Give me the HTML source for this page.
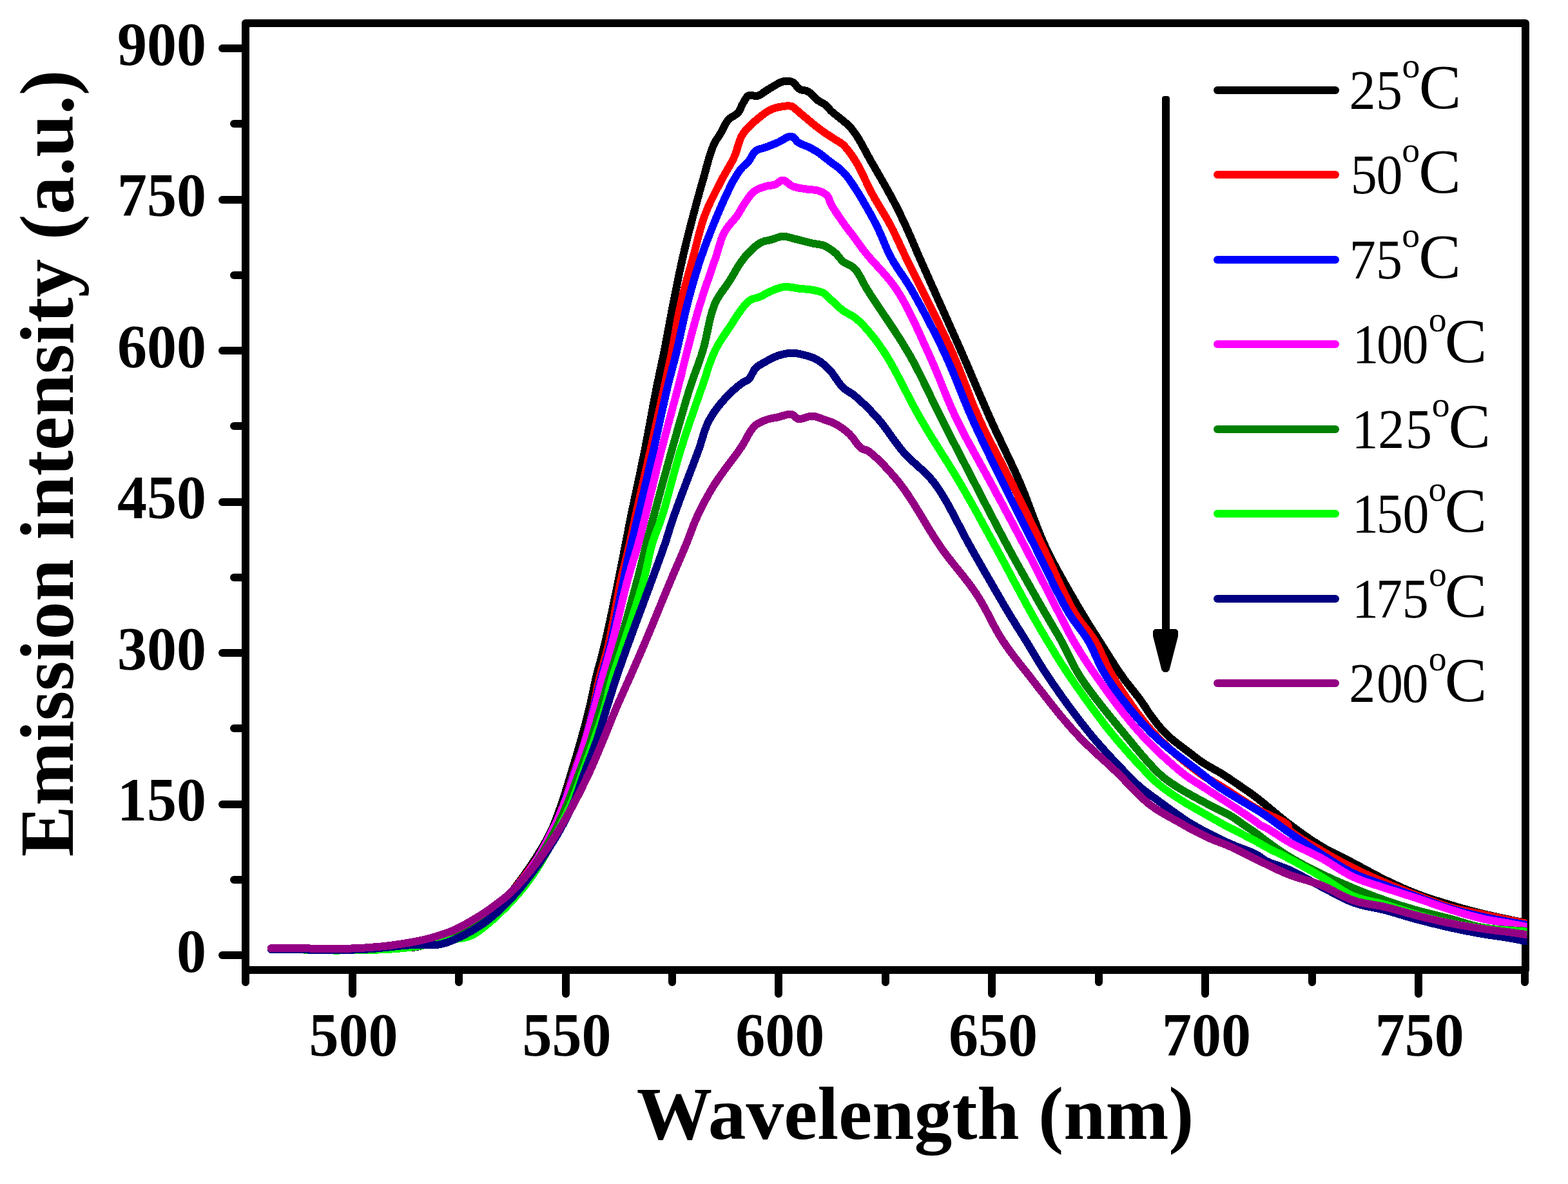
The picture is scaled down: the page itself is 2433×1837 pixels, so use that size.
<!DOCTYPE html>
<html><head><meta charset="utf-8"><title>Emission spectra</title><style>
html,body{margin:0;padding:0;background:#fff;}
svg{display:block;}
</style></head><body>
<svg width="2433" height="1837" viewBox="0 0 2433 1837">
<rect x="381" y="36" width="1986" height="1469" fill="none" stroke="#000" stroke-width="12" stroke-linejoin="round"/>
<path d="M345 1482H381M345 1248H381M345 1013H381M345 779H381M345 544H381M345 310H381M345 75H381M363 1365H381M363 1130H381M363 896H381M363 661H381M363 427H381M363 192H381M547 1505V1542M878 1505V1542M1208 1505V1542M1539 1505V1542M1870 1505V1542M2201 1505V1542M381 1505V1524M712 1505V1524M1043 1505V1524M1374 1505V1524M1705 1505V1524M2036 1505V1524M2366 1505V1524" stroke="#000" stroke-width="12" stroke-linecap="round" fill="none"/>
<defs><clipPath id="cp"><rect x="0" y="0" width="2369.5" height="1837"/></clipPath></defs>
<g fill="none" stroke-width="12" stroke-linejoin="round" stroke-linecap="round" clip-path="url(#cp)" shape-rendering="crispEdges"><path d="M420.5,1473.0 L426.0,1473.0 L431.4,1473.0 L436.8,1472.9 L442.2,1472.9 L448.0,1472.9 L454.0,1473.0 L462.3,1473.2 L471.0,1473.5 L480.2,1473.8 L489.5,1474.1 L498.8,1474.4 L508.0,1474.5 L517.3,1474.5 L526.7,1474.4 L536.2,1474.3 L545.5,1474.1 L554.5,1473.8 L563.0,1473.5 L569.4,1473.2 L575.3,1472.8 L581.1,1472.3 L586.8,1471.9 L592.7,1471.4 L599.0,1471.0 L607.3,1470.7 L616.2,1470.6 L625.4,1470.5 L634.4,1470.3 L642.8,1469.6 L650.0,1468.4 L654.0,1467.2 L657.6,1465.8 L660.8,1464.2 L664.0,1462.5 L667.3,1460.7 L671.0,1459.0 L676.5,1456.8 L682.5,1454.5 L688.7,1452.2 L695.0,1449.9 L701.2,1447.5 L707.0,1445.0 L711.9,1442.8 L716.7,1440.6 L721.3,1438.4 L725.9,1436.1 L730.5,1433.6 L735.0,1431.0 L739.8,1428.0 L744.5,1424.8 L749.2,1421.5 L753.8,1418.1 L758.4,1414.5 L763.0,1411.0 L767.5,1407.6 L771.9,1404.3 L776.2,1400.9 L780.6,1397.3 L785.2,1393.0 L790.0,1388.0 L799.4,1376.6 L810.1,1362.4 L821.2,1346.5 L832.0,1330.1 L841.8,1314.2 L849.9,1300.0 L854.4,1291.1 L858.3,1282.6 L861.6,1274.4 L864.6,1266.3 L867.5,1258.3 L870.4,1250.0 L873.3,1241.7 L876.0,1233.4 L878.6,1225.1 L881.2,1216.7 L883.7,1208.4 L886.2,1200.0 L888.7,1191.7 L891.3,1183.4 L893.8,1175.0 L896.2,1166.7 L898.6,1158.3 L901.0,1150.0 L903.3,1141.7 L905.6,1133.3 L907.9,1125.0 L910.1,1116.6 L912.2,1108.3 L914.3,1100.0 L916.2,1092.0 L917.9,1084.0 L919.6,1076.0 L921.2,1068.0 L922.9,1060.0 L924.8,1051.9 L926.9,1043.5 L929.0,1035.4 L931.3,1027.1 L933.6,1018.6 L935.9,1009.7 L938.3,1000.0 L941.8,984.9 L945.5,968.0 L949.3,950.3 L953.0,932.4 L956.5,915.4 L959.7,900.0 L961.8,889.6 L963.7,879.8 L965.6,870.4 L967.3,861.3 L969.0,852.5 L970.7,843.7 L972.1,836.3 L973.5,829.4 L974.8,822.6 L976.1,815.7 L977.5,808.2 L979.2,800.0 L982.2,785.7 L985.6,769.7 L989.2,752.6 L993.0,734.9 L996.7,717.1 L1000.2,700.0 L1003.5,683.0 L1006.8,665.6 L1010.0,648.2 L1013.1,631.2 L1016.2,615.0 L1019.1,600.0 L1021.2,589.8 L1023.2,580.3 L1025.1,571.3 L1027.0,562.4 L1028.9,553.3 L1030.9,543.7 L1033.1,532.2 L1035.3,520.4 L1037.6,508.3 L1039.8,496.2 L1042.1,484.0 L1044.4,471.9 L1046.8,459.9 L1049.2,447.8 L1051.6,435.8 L1054.1,423.7 L1056.7,411.8 L1059.3,400.0 L1061.9,388.7 L1064.6,377.4 L1067.4,366.1 L1070.2,355.0 L1073.0,344.1 L1075.8,333.5 L1078.3,324.2 L1080.7,315.1 L1083.2,306.2 L1085.6,297.3 L1088.1,288.5 L1090.7,279.6 L1093.3,270.3 L1095.9,260.5 L1098.6,250.8 L1101.3,241.5 L1104.1,233.0 L1106.9,225.7 L1108.7,221.9 L1110.5,218.7 L1112.4,215.7 L1114.3,212.9 L1116.1,210.1 L1118.0,207.0 L1119.9,203.5 L1121.8,199.8 L1123.6,196.0 L1125.6,192.4 L1127.7,189.0 L1130.0,186.0 L1132.3,183.8 L1134.9,182.0 L1137.7,180.4 L1140.3,178.8 L1142.8,177.0 L1145.0,175.0 L1146.7,172.7 L1148.1,170.2 L1149.3,167.6 L1150.4,165.0 L1151.6,162.4 L1153.0,160.0 L1154.4,157.7 L1155.7,155.3 L1157.1,153.0 L1158.6,150.9 L1160.2,149.2 L1162.0,148.0 L1163.9,147.6 L1166.0,147.8 L1168.2,148.3 L1170.5,148.8 L1172.8,149.2 L1175.0,149.0 L1177.5,148.1 L1180.0,146.8 L1182.5,145.2 L1185.0,143.4 L1187.5,141.6 L1190.0,140.0 L1192.5,138.5 L1195.1,136.9 L1197.7,135.3 L1200.2,133.7 L1202.7,132.3 L1205.0,131.0 L1206.7,130.1 L1208.4,129.2 L1210.0,128.3 L1211.6,127.6 L1213.2,127.0 L1215.0,126.5 L1217.2,126.1 L1219.6,125.9 L1222.0,125.8 L1224.4,125.9 L1226.8,126.3 L1229.0,127.0 L1231.2,128.3 L1233.2,130.3 L1235.1,132.5 L1236.9,134.8 L1238.9,136.9 L1241.0,138.5 L1243.1,139.4 L1245.2,139.9 L1247.4,140.2 L1249.7,140.6 L1251.9,141.1 L1254.0,142.0 L1256.4,143.7 L1258.8,145.8 L1261.1,148.2 L1263.4,150.6 L1265.7,153.0 L1268.0,155.0 L1270.2,156.5 L1272.4,157.8 L1274.7,159.1 L1276.9,160.3 L1279.0,161.6 L1281.0,163.0 L1282.6,164.4 L1284.0,165.9 L1285.3,167.4 L1286.6,169.0 L1288.2,170.7 L1290.0,172.6 L1294.2,176.2 L1299.3,180.2 L1304.9,184.6 L1310.8,189.4 L1316.4,194.5 L1321.6,200.0 L1327.0,207.2 L1332.1,215.1 L1336.9,223.5 L1341.7,232.3 L1346.5,241.2 L1351.4,250.0 L1357.1,259.7 L1362.9,269.9 L1368.8,280.1 L1374.6,290.3 L1380.1,300.2 L1385.2,309.6 L1388.9,316.7 L1392.3,323.4 L1395.6,329.9 L1398.7,336.4 L1401.9,343.1 L1405.1,350.0 L1408.7,358.0 L1412.4,366.2 L1416.0,374.6 L1419.6,383.1 L1423.2,391.6 L1426.9,400.0 L1430.5,408.1 L1434.0,416.0 L1437.5,423.9 L1441.2,432.1 L1445.0,440.7 L1449.2,450.0 L1455.7,464.7 L1462.9,480.8 L1470.5,497.8 L1478.3,515.4 L1486.1,532.9 L1493.6,550.0 L1500.8,566.7 L1507.9,583.3 L1515.0,600.0 L1522.2,616.7 L1529.4,633.4 L1536.7,650.0 L1544.3,666.7 L1552.2,683.3 L1560.1,700.0 L1568.0,716.6 L1575.7,733.3 L1583.1,750.0 L1589.9,766.6 L1596.3,783.4 L1602.5,800.1 L1608.9,816.8 L1615.6,833.5 L1622.9,850.0 L1631.5,867.3 L1640.9,885.1 L1650.7,902.8 L1660.5,919.9 L1669.7,935.8 L1678.1,950.0 L1683.0,958.3 L1687.6,965.8 L1691.9,972.7 L1696.2,979.4 L1700.6,986.3 L1705.3,993.7 L1711.1,1002.9 L1717.1,1012.5 L1723.4,1022.3 L1729.6,1032.1 L1735.8,1041.4 L1741.7,1050.0 L1746.4,1056.4 L1751.1,1062.5 L1755.7,1068.3 L1760.2,1073.9 L1764.5,1079.5 L1768.7,1085.0 L1772.1,1089.8 L1775.4,1094.6 L1778.5,1099.3 L1781.5,1104.0 L1784.7,1108.5 L1787.9,1113.0 L1791.1,1117.2 L1794.4,1121.4 L1797.6,1125.6 L1801.0,1129.6 L1804.3,1133.4 L1807.7,1137.0 L1810.7,1140.0 L1813.8,1142.8 L1816.8,1145.4 L1819.9,1148.0 L1823.1,1150.5 L1826.2,1153.0 L1829.4,1155.5 L1832.5,1157.9 L1835.8,1160.3 L1839.0,1162.7 L1842.2,1165.1 L1845.4,1167.5 L1848.6,1169.9 L1851.7,1172.4 L1854.9,1174.9 L1858.1,1177.4 L1861.3,1179.7 L1864.5,1182.0 L1867.7,1184.1 L1871.0,1186.1 L1874.4,1188.1 L1877.6,1190.0 L1880.8,1191.8 L1883.7,1193.5 L1885.7,1194.7 L1887.5,1195.7 L1889.3,1196.6 L1891.0,1197.6 L1892.9,1198.7 L1895.1,1200.0 L1899.3,1202.7 L1904.2,1205.8 L1909.4,1209.3 L1914.7,1213.0 L1920.0,1216.6 L1925.0,1220.0 L1929.2,1222.9 L1933.2,1225.6 L1937.2,1228.4 L1941.2,1231.2 L1945.4,1234.3 L1950.0,1237.7 L1957.4,1243.5 L1965.4,1250.1 L1973.9,1257.2 L1982.6,1264.5 L1991.4,1271.6 L2000.0,1278.3 L2008.2,1284.4 L2016.5,1290.5 L2024.8,1296.4 L2033.1,1302.2 L2041.5,1307.7 L2050.0,1313.0 L2058.2,1317.7 L2066.5,1322.2 L2074.9,1326.4 L2083.3,1330.6 L2091.7,1334.7 L2100.0,1339.0 L2108.3,1343.4 L2116.6,1348.0 L2125.0,1352.5 L2133.3,1357.0 L2141.6,1361.3 L2150.0,1365.5 L2158.3,1369.5 L2166.6,1373.3 L2174.9,1377.1 L2183.2,1380.7 L2191.6,1384.2 L2200.0,1387.5 L2208.3,1390.5 L2216.6,1393.4 L2224.9,1396.1 L2233.3,1398.7 L2241.6,1401.3 L2250.0,1403.8 L2258.2,1406.2 L2266.3,1408.6 L2274.4,1410.8 L2282.6,1413.1 L2291.1,1415.3 L2300.0,1417.5 L2311.2,1420.1 L2323.0,1422.7 L2335.2,1425.3 L2347.5,1427.9 L2359.8,1430.4 L2372.0,1433.0" stroke="#000000"/><path d="M420.5,1473.0 L426.0,1473.0 L431.4,1473.0 L436.8,1472.9 L442.2,1472.9 L448.0,1472.9 L454.0,1473.0 L462.3,1473.2 L471.0,1473.5 L480.2,1473.8 L489.5,1474.1 L498.8,1474.4 L508.0,1474.5 L517.3,1474.5 L526.7,1474.4 L536.2,1474.3 L545.5,1474.1 L554.5,1473.8 L563.0,1473.5 L569.4,1473.2 L575.6,1472.9 L581.5,1472.6 L587.3,1472.1 L593.1,1471.6 L599.0,1471.0 L605.0,1470.2 L611.0,1469.3 L617.0,1468.2 L623.0,1467.1 L629.0,1466.0 L635.0,1465.0 L641.0,1464.1 L647.0,1463.3 L653.1,1462.5 L659.1,1461.6 L665.1,1460.4 L671.0,1459.0 L677.1,1457.1 L683.3,1455.0 L689.4,1452.6 L695.4,1450.1 L701.3,1447.5 L707.0,1445.0 L711.9,1442.8 L716.7,1440.6 L721.3,1438.4 L725.9,1436.1 L730.5,1433.6 L735.0,1431.0 L739.8,1428.0 L744.5,1424.8 L749.2,1421.5 L753.8,1418.1 L758.4,1414.5 L763.0,1411.0 L767.5,1407.5 L771.9,1404.2 L776.2,1400.8 L780.6,1397.1 L785.2,1392.9 L790.0,1388.0 L799.0,1377.8 L809.2,1365.5 L819.8,1351.8 L830.2,1337.5 L839.8,1323.3 L848.0,1310.0 L853.5,1299.7 L858.4,1289.6 L862.6,1279.5 L866.5,1269.5 L870.2,1259.7 L873.8,1250.0 L876.9,1241.5 L879.6,1233.1 L882.2,1224.8 L884.8,1216.5 L887.3,1208.3 L890.0,1200.0 L892.9,1191.7 L895.9,1183.3 L898.9,1175.0 L901.9,1166.7 L904.7,1158.4 L907.4,1150.0 L909.8,1141.7 L912.1,1133.4 L914.2,1125.0 L916.3,1116.6 L918.3,1108.3 L920.2,1100.0 L922.0,1092.0 L923.6,1084.0 L925.1,1076.0 L926.7,1068.0 L928.4,1060.0 L930.2,1051.9 L932.3,1043.5 L934.6,1035.4 L937.0,1027.1 L939.4,1018.7 L941.8,1009.7 L944.2,1000.0 L947.4,984.9 L950.7,968.0 L953.9,950.3 L957.2,932.4 L960.4,915.4 L963.5,900.0 L965.8,889.6 L968.2,879.8 L970.5,870.4 L972.8,861.3 L974.9,852.5 L977.0,843.7 L978.6,836.3 L980.1,829.4 L981.5,822.6 L983.0,815.7 L984.5,808.2 L986.3,800.0 L989.5,785.7 L993.1,769.7 L997.0,752.5 L1001.0,734.8 L1005.0,717.1 L1008.9,700.0 L1012.7,683.0 L1016.5,665.6 L1020.4,648.2 L1024.1,631.2 L1027.6,615.0 L1030.9,600.0 L1033.1,589.8 L1035.2,580.3 L1037.1,571.3 L1039.0,562.4 L1040.9,553.3 L1042.8,543.7 L1045.0,532.2 L1047.1,520.4 L1049.2,508.3 L1051.3,496.1 L1053.7,483.9 L1056.2,471.9 L1059.0,459.9 L1062.1,447.8 L1065.3,435.7 L1068.6,423.7 L1072.0,411.8 L1075.2,400.0 L1078.2,388.7 L1081.0,377.3 L1083.9,366.0 L1086.9,354.9 L1090.2,344.0 L1093.8,333.5 L1097.6,323.9 L1101.8,314.5 L1106.3,305.4 L1110.8,296.4 L1115.2,287.8 L1119.5,279.6 L1122.9,273.2 L1126.4,267.1 L1129.8,261.2 L1133.1,255.5 L1136.3,249.7 L1139.2,243.7 L1141.6,237.7 L1143.6,231.5 L1145.4,225.2 L1147.4,219.1 L1149.7,213.3 L1152.7,207.8 L1156.4,202.7 L1160.8,197.8 L1165.5,193.1 L1170.4,188.8 L1175.2,184.8 L1179.6,181.2 L1182.7,178.8 L1185.7,176.5 L1188.6,174.5 L1191.6,172.6 L1194.5,171.0 L1197.6,169.5 L1200.6,168.3 L1203.6,167.4 L1206.7,166.6 L1209.8,165.9 L1212.8,165.4 L1215.6,165.0 L1217.8,164.7 L1219.9,164.4 L1222.0,164.3 L1224.0,164.3 L1226.1,164.5 L1228.1,165.0 L1230.5,166.1 L1232.8,167.7 L1235.0,169.6 L1237.4,171.8 L1239.8,174.0 L1242.5,176.3 L1246.8,179.8 L1251.5,183.7 L1256.5,187.9 L1261.6,192.2 L1266.6,196.2 L1271.5,200.0 L1275.8,203.1 L1280.2,206.2 L1284.6,209.1 L1288.8,211.9 L1292.8,214.4 L1296.4,216.8 L1298.6,218.1 L1300.5,219.3 L1302.4,220.3 L1304.2,221.4 L1306.1,222.7 L1308.0,224.3 L1311.1,227.5 L1314.4,231.2 L1317.7,235.4 L1321.0,240.0 L1324.3,244.9 L1327.6,250.0 L1331.9,257.4 L1336.1,265.5 L1340.2,274.2 L1344.5,283.1 L1348.8,292.0 L1353.2,300.6 L1357.9,308.9 L1362.7,317.1 L1367.7,325.3 L1372.6,333.5 L1377.4,341.7 L1382.0,350.0 L1386.2,358.3 L1390.3,366.6 L1394.2,374.9 L1398.0,383.3 L1401.9,391.7 L1405.9,400.0 L1409.9,408.1 L1413.9,416.0 L1417.9,423.9 L1422.0,432.1 L1426.3,440.7 L1430.9,450.0 L1438.1,464.6 L1446.1,480.7 L1454.5,497.7 L1463.0,515.3 L1471.3,532.8 L1479.1,550.0 L1486.1,566.6 L1492.7,583.3 L1499.1,600.0 L1505.5,616.8 L1512.2,633.4 L1519.4,650.0 L1527.3,666.8 L1535.6,683.5 L1544.3,700.1 L1553.0,716.7 L1561.6,733.3 L1570.1,750.0 L1578.3,766.6 L1586.5,783.3 L1594.6,800.0 L1602.7,816.6 L1610.7,833.3 L1618.8,850.0 L1626.9,867.2 L1635.0,885.0 L1643.0,902.7 L1651.0,919.9 L1659.0,935.9 L1666.8,950.0 L1672.2,958.4 L1677.7,965.9 L1683.1,972.7 L1688.4,979.3 L1693.5,986.2 L1698.5,993.7 L1703.4,1002.4 L1707.8,1011.4 L1712.1,1020.7 L1716.5,1030.2 L1721.3,1040.0 L1727.0,1050.0 L1735.6,1063.9 L1745.2,1078.6 L1755.7,1093.8 L1766.7,1109.0 L1778.1,1123.5 L1789.7,1137.0 L1801.3,1149.0 L1813.8,1160.8 L1826.6,1172.1 L1839.3,1182.5 L1851.2,1191.9 L1862.0,1200.0 L1868.0,1204.2 L1873.4,1207.6 L1878.6,1210.6 L1883.8,1213.5 L1889.1,1216.5 L1895.0,1220.0 L1903.4,1225.3 L1912.4,1231.2 L1921.8,1237.3 L1931.3,1243.5 L1940.8,1249.4 L1950.0,1254.9 L1958.8,1259.6 L1968.5,1264.1 L1978.0,1268.4 L1986.7,1272.5 L1993.6,1276.4 L1998.0,1280.0 L1998.7,1281.2 L1999.0,1282.3 L1999.0,1283.4 L1999.0,1284.5 L1999.3,1285.7 L2000.0,1287.0 L2004.5,1291.4 L2011.8,1296.6 L2020.8,1302.4 L2030.8,1308.3 L2040.8,1314.1 L2050.0,1319.5 L2058.3,1324.4 L2066.6,1329.1 L2074.9,1333.7 L2083.2,1338.2 L2091.6,1342.5 L2100.0,1346.8 L2108.3,1350.9 L2116.6,1354.9 L2124.9,1358.7 L2133.3,1362.5 L2141.6,1366.2 L2150.0,1369.8 L2158.3,1373.3 L2166.6,1376.7 L2174.9,1380.1 L2183.3,1383.4 L2191.6,1386.6 L2200.0,1389.8 L2208.3,1393.0 L2216.6,1396.2 L2224.9,1399.3 L2233.2,1402.3 L2241.6,1405.1 L2250.0,1407.7 L2258.3,1409.9 L2266.8,1411.8 L2275.3,1413.6 L2283.7,1415.2 L2292.0,1416.9 L2300.0,1418.5 L2307.0,1420.0 L2313.8,1421.5 L2320.6,1422.9 L2327.2,1424.3 L2333.6,1425.7 L2340.0,1427.0 L2345.5,1428.1 L2350.9,1429.2 L2356.2,1430.3 L2361.5,1431.4 L2366.7,1432.4 L2372.0,1433.5" stroke="#ff0000"/><path d="M420.5,1473.0 L426.0,1473.0 L431.4,1473.0 L436.8,1472.9 L442.2,1472.9 L448.0,1472.9 L454.0,1473.0 L462.3,1473.2 L471.0,1473.5 L480.2,1473.8 L489.5,1474.1 L498.8,1474.4 L508.0,1474.5 L517.3,1474.5 L526.7,1474.4 L536.2,1474.3 L545.5,1474.1 L554.5,1473.8 L563.0,1473.5 L569.4,1473.2 L575.3,1472.8 L581.1,1472.4 L586.8,1471.9 L592.7,1471.5 L599.0,1471.0 L607.3,1470.6 L616.2,1470.3 L625.4,1470.0 L634.4,1469.6 L642.8,1468.8 L650.0,1467.6 L654.0,1466.5 L657.6,1465.2 L660.8,1463.7 L664.0,1462.2 L667.3,1460.6 L671.0,1459.0 L676.5,1456.9 L682.5,1454.6 L688.7,1452.3 L695.0,1449.9 L701.2,1447.5 L707.0,1445.0 L711.9,1442.8 L716.7,1440.6 L721.3,1438.4 L725.9,1436.1 L730.5,1433.6 L735.0,1431.0 L739.8,1428.0 L744.5,1424.8 L749.2,1421.5 L753.8,1418.1 L758.4,1414.5 L763.0,1411.0 L767.5,1407.5 L771.8,1404.2 L776.2,1400.8 L780.5,1397.1 L785.1,1392.9 L790.0,1388.0 L799.3,1378.1 L809.8,1366.1 L820.9,1352.9 L831.8,1339.0 L841.7,1325.1 L850.0,1312.0 L855.4,1301.5 L859.9,1291.0 L863.8,1280.6 L867.2,1270.2 L870.6,1260.0 L874.0,1250.0 L877.1,1241.4 L880.0,1233.0 L882.8,1224.7 L885.5,1216.5 L888.2,1208.3 L891.0,1200.0 L893.8,1191.7 L896.7,1183.4 L899.6,1175.0 L902.4,1166.7 L905.1,1158.4 L907.7,1150.0 L910.1,1141.7 L912.4,1133.3 L914.6,1125.0 L916.8,1116.6 L918.9,1108.3 L921.0,1100.0 L923.0,1092.0 L925.0,1084.0 L926.9,1076.0 L928.8,1068.0 L930.8,1060.0 L932.9,1051.9 L935.2,1043.6 L937.5,1035.4 L940.0,1027.2 L942.4,1018.7 L944.9,1009.7 L947.3,1000.0 L950.7,984.9 L954.2,968.1 L957.7,950.3 L961.2,932.4 L964.5,915.4 L967.6,900.0 L969.8,889.6 L971.8,879.8 L973.8,870.4 L975.8,861.3 L977.7,852.5 L979.7,843.7 L981.4,836.3 L983.0,829.4 L984.7,822.6 L986.3,815.7 L988.1,808.3 L990.1,800.0 L993.5,785.7 L997.3,769.7 L1001.3,752.6 L1005.5,734.9 L1009.6,717.1 L1013.6,700.0 L1017.4,683.0 L1021.3,665.6 L1025.0,648.2 L1028.8,631.2 L1032.4,615.0 L1035.9,600.0 L1038.4,589.8 L1040.9,580.3 L1043.2,571.3 L1045.6,562.4 L1047.9,553.3 L1050.3,543.7 L1052.9,532.2 L1055.5,520.4 L1058.1,508.3 L1060.8,496.1 L1063.5,483.9 L1066.5,471.9 L1069.7,459.8 L1073.0,447.8 L1076.4,435.7 L1080.0,423.7 L1083.7,411.8 L1087.6,400.0 L1091.6,388.5 L1095.9,376.8 L1100.4,365.2 L1104.8,354.0 L1109.1,343.3 L1113.2,333.5 L1116.1,326.7 L1118.9,320.2 L1121.7,314.0 L1124.3,308.2 L1126.9,302.7 L1129.3,297.6 L1130.9,294.2 L1132.4,291.1 L1133.8,288.2 L1135.2,285.3 L1136.7,282.5 L1138.3,279.6 L1140.1,276.5 L1142.0,273.4 L1143.9,270.3 L1145.9,267.3 L1147.9,264.4 L1150.0,261.7 L1151.9,259.6 L1153.9,257.6 L1155.9,255.8 L1157.9,254.0 L1159.8,252.1 L1161.7,250.0 L1163.5,247.5 L1165.2,244.7 L1166.8,241.8 L1168.4,239.0 L1170.3,236.5 L1172.4,234.4 L1174.8,232.9 L1177.3,231.8 L1180.1,230.9 L1182.9,230.1 L1185.8,229.3 L1188.6,228.4 L1191.5,227.3 L1194.5,226.1 L1197.5,224.9 L1200.5,223.7 L1203.5,222.5 L1206.6,221.2 L1210.2,219.4 L1214.0,217.3 L1217.8,215.0 L1221.5,213.1 L1225.0,211.9 L1228.1,211.7 L1230.2,212.5 L1232.0,213.9 L1233.6,215.7 L1235.2,217.7 L1237.0,219.6 L1238.9,221.2 L1241.4,222.6 L1244.0,223.8 L1246.8,224.9 L1249.6,226.0 L1252.4,227.2 L1255.1,228.4 L1257.5,229.6 L1259.9,230.9 L1262.3,232.2 L1264.6,233.5 L1267.0,234.9 L1269.4,236.5 L1272.3,238.5 L1275.1,240.6 L1278.0,242.9 L1281.0,245.2 L1284.0,247.6 L1287.0,250.0 L1290.4,252.6 L1294.0,255.1 L1297.6,257.7 L1301.2,260.5 L1304.7,263.4 L1308.0,266.5 L1311.3,270.1 L1314.5,273.9 L1317.5,277.9 L1320.4,282.1 L1323.5,286.7 L1326.8,291.7 L1332.1,300.0 L1337.7,309.4 L1343.6,319.5 L1349.5,329.9 L1355.1,340.2 L1360.2,350.0 L1364.2,358.4 L1367.9,366.7 L1371.3,375.0 L1374.7,383.1 L1378.4,391.3 L1382.5,399.4 L1387.3,407.7 L1392.4,415.7 L1397.7,423.6 L1403.3,431.8 L1408.9,440.5 L1414.7,450.0 L1422.9,464.6 L1431.7,480.6 L1440.7,497.7 L1449.7,515.2 L1458.5,532.8 L1466.7,550.0 L1474.1,566.6 L1481.1,583.2 L1487.9,600.0 L1494.6,616.7 L1501.4,633.4 L1508.6,650.0 L1516.2,666.7 L1524.1,683.4 L1532.1,700.1 L1540.2,716.7 L1548.4,733.4 L1556.6,750.0 L1564.9,766.7 L1573.2,783.4 L1581.6,800.0 L1590.1,816.7 L1598.6,833.3 L1607.0,850.0 L1615.5,867.2 L1624.2,884.9 L1632.8,902.7 L1641.4,919.9 L1649.7,935.8 L1657.7,950.0 L1663.0,958.4 L1668.3,965.8 L1673.4,972.7 L1678.5,979.3 L1683.4,986.2 L1688.2,993.7 L1693.0,1002.5 L1697.3,1011.5 L1701.5,1020.8 L1705.9,1030.3 L1710.9,1040.1 L1716.8,1050.0 L1726.2,1063.9 L1736.8,1078.7 L1748.5,1094.0 L1760.8,1109.1 L1773.5,1123.6 L1786.3,1137.0 L1799.1,1149.0 L1813.0,1160.7 L1827.2,1171.9 L1841.1,1182.3 L1853.7,1191.8 L1864.4,1200.0 L1869.3,1204.0 L1873.6,1207.4 L1877.5,1210.6 L1881.3,1213.6 L1885.3,1216.7 L1890.0,1220.0 L1897.6,1225.0 L1906.4,1230.5 L1915.6,1236.1 L1924.6,1241.5 L1932.7,1246.2 L1939.0,1250.0 L1941.3,1251.4 L1943.2,1252.5 L1944.9,1253.5 L1946.5,1254.4 L1948.2,1255.4 L1950.0,1256.5 L1952.4,1257.9 L1954.8,1259.4 L1957.3,1261.0 L1959.8,1262.6 L1962.4,1264.3 L1965.0,1266.0 L1968.1,1268.2 L1971.3,1270.5 L1974.5,1272.9 L1977.7,1275.3 L1980.9,1277.7 L1984.0,1280.0 L1986.6,1281.9 L1989.1,1283.7 L1991.5,1285.5 L1994.0,1287.3 L1996.8,1289.3 L2000.0,1291.5 L2006.7,1296.2 L2014.6,1301.6 L2023.2,1307.5 L2032.2,1313.6 L2041.3,1319.6 L2050.0,1325.2 L2058.3,1330.5 L2066.5,1335.8 L2074.8,1340.9 L2083.1,1345.9 L2091.5,1350.7 L2100.0,1355.0 L2108.2,1358.7 L2116.5,1362.1 L2124.9,1365.1 L2133.2,1368.1 L2141.6,1371.0 L2150.0,1374.0 L2158.3,1377.1 L2166.7,1380.1 L2175.0,1383.1 L2183.3,1386.1 L2191.7,1389.1 L2200.0,1392.1 L2208.3,1395.1 L2216.6,1398.1 L2225.0,1401.1 L2233.3,1404.1 L2241.6,1406.9 L2250.0,1409.5 L2258.4,1411.9 L2266.8,1414.3 L2275.3,1416.4 L2283.7,1418.5 L2292.0,1420.5 L2300.0,1422.3 L2307.0,1423.8 L2313.8,1425.2 L2320.5,1426.5 L2327.1,1427.7 L2333.6,1428.9 L2340.0,1430.0 L2345.5,1431.0 L2350.9,1431.9 L2356.2,1432.8 L2361.5,1433.7 L2366.7,1434.6 L2372.0,1435.5" stroke="#0000ff"/><path d="M420.5,1473.0 L426.0,1473.0 L431.4,1473.0 L436.8,1472.9 L442.2,1472.9 L448.0,1472.9 L454.0,1473.0 L462.3,1473.2 L471.0,1473.5 L480.2,1473.8 L489.5,1474.1 L498.8,1474.4 L508.0,1474.5 L517.3,1474.5 L526.7,1474.4 L536.2,1474.3 L545.5,1474.1 L554.5,1473.8 L563.0,1473.5 L569.4,1473.2 L575.3,1472.8 L581.1,1472.4 L586.8,1471.9 L592.7,1471.5 L599.0,1471.0 L607.3,1470.5 L616.2,1470.1 L625.4,1469.7 L634.4,1469.1 L642.7,1468.2 L650.0,1467.0 L654.0,1465.9 L657.5,1464.7 L660.8,1463.4 L664.0,1462.0 L667.3,1460.5 L671.0,1459.0 L676.5,1456.9 L682.5,1454.7 L688.7,1452.4 L695.0,1449.9 L701.2,1447.5 L707.0,1445.0 L711.9,1442.8 L716.7,1440.6 L721.3,1438.4 L725.9,1436.1 L730.5,1433.6 L735.0,1431.0 L739.8,1428.0 L744.5,1424.8 L749.2,1421.5 L753.8,1418.1 L758.4,1414.5 L763.0,1411.0 L767.6,1407.4 L772.1,1403.8 L776.6,1400.2 L781.0,1396.4 L785.5,1392.3 L790.0,1388.0 L795.4,1382.4 L800.9,1376.5 L806.4,1370.2 L811.9,1363.7 L817.2,1356.9 L822.3,1350.0 L827.6,1342.2 L832.6,1334.1 L837.6,1325.7 L842.3,1317.1 L846.9,1308.5 L851.4,1300.0 L855.6,1291.7 L859.6,1283.5 L863.6,1275.1 L867.3,1266.8 L870.9,1258.4 L874.4,1250.0 L877.6,1241.7 L880.7,1233.4 L883.6,1225.1 L886.4,1216.7 L889.2,1208.4 L892.0,1200.0 L894.8,1191.7 L897.5,1183.4 L900.2,1175.0 L902.9,1166.7 L905.5,1158.4 L908.0,1150.0 L910.5,1141.7 L912.9,1133.3 L915.3,1125.0 L917.6,1116.6 L919.9,1108.3 L922.2,1100.0 L924.3,1092.0 L926.4,1084.0 L928.4,1076.0 L930.5,1068.0 L932.5,1060.0 L934.7,1051.9 L937.0,1043.6 L939.4,1035.4 L941.8,1027.1 L944.3,1018.6 L946.8,1009.7 L949.4,1000.0 L953.2,984.9 L957.3,968.0 L961.5,950.2 L965.7,932.4 L969.8,915.4 L973.8,900.0 L976.7,889.6 L979.6,879.8 L982.5,870.4 L985.3,861.3 L988.0,852.5 L990.5,843.7 L992.5,836.3 L994.3,829.4 L996.0,822.6 L997.7,815.7 L999.6,808.3 L1001.6,800.0 L1005.1,785.7 L1008.9,769.7 L1013.1,752.5 L1017.3,734.8 L1021.6,717.1 L1025.9,700.0 L1030.3,683.0 L1034.9,665.6 L1039.6,648.2 L1044.1,631.2 L1048.5,615.0 L1052.4,600.0 L1055.0,589.8 L1057.4,580.3 L1059.6,571.3 L1061.8,562.4 L1064.0,553.3 L1066.5,543.7 L1069.5,532.2 L1072.6,520.4 L1075.8,508.3 L1079.2,496.1 L1082.6,483.9 L1086.2,471.9 L1090.1,459.6 L1094.2,447.1 L1098.5,434.6 L1102.7,422.4 L1106.7,410.7 L1110.4,400.0 L1112.8,392.6 L1114.8,385.6 L1116.8,378.9 L1118.8,372.5 L1121.1,366.4 L1123.9,360.5 L1127.0,355.5 L1130.5,350.7 L1134.2,346.2 L1138.0,341.8 L1141.5,337.6 L1144.6,333.5 L1146.6,330.3 L1148.4,327.3 L1150.1,324.3 L1151.7,321.4 L1153.5,318.5 L1155.4,315.6 L1157.7,312.3 L1160.0,308.9 L1162.5,305.4 L1165.0,302.2 L1167.7,299.2 L1170.6,296.7 L1173.4,294.9 L1176.3,293.3 L1179.4,292.0 L1182.6,290.9 L1185.6,289.9 L1188.6,289.0 L1191.1,288.4 L1193.6,288.0 L1196.0,287.7 L1198.4,287.4 L1200.7,287.0 L1203.0,286.3 L1205.1,285.3 L1207.0,283.9 L1208.9,282.3 L1210.8,281.0 L1212.7,280.0 L1214.7,279.6 L1217.1,280.2 L1219.5,281.6 L1221.9,283.5 L1224.5,285.6 L1227.1,287.5 L1229.9,289.0 L1233.2,290.1 L1236.8,291.0 L1240.5,291.8 L1244.3,292.4 L1248.0,292.9 L1251.5,293.5 L1254.6,293.9 L1257.7,294.2 L1260.7,294.4 L1263.7,294.6 L1266.6,295.1 L1269.4,295.8 L1272.0,296.7 L1274.7,297.8 L1277.3,299.1 L1279.7,300.5 L1281.9,302.1 L1283.8,303.9 L1285.2,305.8 L1286.2,307.9 L1287.0,310.1 L1287.8,312.5 L1288.7,315.0 L1290.0,317.7 L1292.8,322.5 L1296.3,327.9 L1300.1,333.6 L1304.1,339.4 L1308.0,345.0 L1311.6,350.0 L1314.1,353.4 L1316.5,356.6 L1318.8,359.6 L1321.1,362.6 L1323.5,365.7 L1325.9,368.9 L1328.7,372.7 L1331.4,376.4 L1334.2,380.3 L1337.1,384.3 L1340.3,388.6 L1343.9,393.2 L1350.6,401.1 L1358.3,409.6 L1366.8,418.8 L1375.4,428.6 L1383.9,439.0 L1391.8,450.0 L1400.7,464.7 L1409.4,480.8 L1417.7,497.8 L1425.9,515.3 L1433.8,532.9 L1441.6,550.0 L1448.9,566.6 L1455.9,583.3 L1462.6,600.0 L1469.4,616.8 L1476.5,633.4 L1484.1,650.0 L1492.5,666.8 L1501.3,683.5 L1510.4,700.1 L1519.6,716.7 L1528.8,733.4 L1537.9,750.0 L1546.8,766.7 L1555.8,783.3 L1564.7,800.0 L1573.6,816.6 L1582.4,833.3 L1591.2,850.0 L1600.1,867.1 L1609.2,884.8 L1618.2,902.5 L1627.0,919.7 L1635.1,935.7 L1642.5,950.0 L1646.7,958.3 L1650.5,965.7 L1654.0,972.7 L1657.5,979.5 L1661.2,986.4 L1665.3,993.7 L1670.6,1002.6 L1676.1,1011.7 L1681.9,1020.9 L1688.1,1030.3 L1694.6,1040.0 L1701.6,1050.0 L1711.4,1063.8 L1722.0,1078.5 L1733.3,1093.6 L1745.0,1108.8 L1756.9,1123.4 L1768.7,1137.0 L1779.8,1148.9 L1791.4,1160.6 L1803.2,1171.9 L1814.8,1182.4 L1825.7,1191.9 L1835.5,1200.0 L1841.0,1204.2 L1845.9,1207.6 L1850.7,1210.7 L1855.3,1213.6 L1860.2,1216.6 L1865.5,1220.0 L1872.7,1224.7 L1880.4,1229.6 L1888.4,1234.8 L1896.4,1239.9 L1904.3,1245.0 L1911.9,1250.0 L1918.9,1254.6 L1926.2,1259.5 L1933.4,1264.3 L1940.1,1268.8 L1945.8,1272.8 L1950.0,1275.8 L1951.1,1276.7 L1952.0,1277.4 L1952.7,1278.1 L1953.4,1278.8 L1954.2,1279.4 L1955.1,1280.0 L1956.5,1280.8 L1957.9,1281.4 L1959.5,1282.0 L1961.2,1282.7 L1963.0,1283.5 L1965.0,1284.5 L1969.5,1287.2 L1974.9,1290.6 L1980.7,1294.4 L1987.0,1298.6 L1993.5,1302.7 L2000.0,1306.5 L2007.8,1310.6 L2016.0,1314.7 L2024.4,1318.7 L2033.0,1322.8 L2041.6,1326.9 L2050.0,1331.3 L2058.4,1336.1 L2066.7,1341.2 L2074.9,1346.5 L2083.2,1351.6 L2091.5,1356.4 L2100.0,1360.7 L2108.2,1364.2 L2116.5,1367.3 L2124.9,1370.1 L2133.2,1372.8 L2141.6,1375.4 L2150.0,1378.1 L2158.3,1380.8 L2166.7,1383.5 L2175.0,1386.2 L2183.3,1388.8 L2191.7,1391.5 L2200.0,1394.2 L2208.3,1397.0 L2216.7,1399.9 L2225.0,1402.8 L2233.3,1405.6 L2241.6,1408.4 L2250.0,1411.1 L2258.4,1413.7 L2266.8,1416.3 L2275.3,1418.8 L2283.7,1421.1 L2292.0,1423.3 L2300.0,1425.3 L2306.9,1426.8 L2313.8,1428.1 L2320.5,1429.2 L2327.1,1430.3 L2333.6,1431.4 L2340.0,1432.5 L2345.5,1433.5 L2350.9,1434.5 L2356.2,1435.5 L2361.5,1436.5 L2366.7,1437.5 L2372.0,1438.5" stroke="#ff00ff"/><path d="M420.5,1473.0 L426.0,1473.0 L431.4,1473.0 L436.8,1472.9 L442.2,1472.9 L448.0,1472.9 L454.0,1473.0 L462.3,1473.2 L471.0,1473.5 L480.2,1473.8 L489.5,1474.1 L498.8,1474.4 L508.0,1474.5 L517.3,1474.5 L526.7,1474.4 L536.2,1474.3 L545.5,1474.1 L554.5,1473.8 L563.0,1473.5 L569.4,1473.2 L575.6,1472.9 L581.5,1472.6 L587.3,1472.1 L593.1,1471.6 L599.0,1471.0 L605.0,1470.2 L611.0,1469.3 L617.0,1468.2 L623.0,1467.1 L629.0,1466.0 L635.0,1465.0 L641.0,1464.1 L647.0,1463.3 L653.1,1462.5 L659.1,1461.6 L665.1,1460.4 L671.0,1459.0 L677.1,1457.1 L683.3,1455.0 L689.4,1452.6 L695.4,1450.1 L701.3,1447.5 L707.0,1445.0 L711.9,1442.8 L716.7,1440.6 L721.3,1438.4 L725.9,1436.1 L730.5,1433.6 L735.0,1431.0 L739.8,1428.0 L744.5,1424.8 L749.2,1421.5 L753.8,1418.1 L758.4,1414.5 L763.0,1411.0 L767.6,1407.4 L772.1,1403.7 L776.6,1400.0 L781.1,1396.2 L785.5,1392.2 L790.0,1388.0 L795.0,1383.2 L800.0,1378.3 L805.1,1373.2 L810.1,1367.8 L815.1,1362.1 L820.0,1356.0 L826.1,1347.7 L832.2,1338.6 L838.4,1329.1 L844.3,1319.2 L850.0,1309.5 L855.3,1300.0 L859.8,1291.6 L864.0,1283.3 L868.0,1275.0 L871.9,1266.7 L875.6,1258.4 L879.2,1250.0 L882.7,1241.7 L886.0,1233.4 L889.1,1225.1 L892.2,1216.7 L895.3,1208.4 L898.4,1200.0 L901.5,1191.7 L904.6,1183.4 L907.6,1175.0 L910.6,1166.7 L913.6,1158.4 L916.4,1150.0 L919.1,1141.7 L921.7,1133.3 L924.2,1125.0 L926.6,1116.6 L929.1,1108.3 L931.5,1100.0 L933.9,1092.0 L936.2,1084.0 L938.5,1076.0 L940.8,1068.0 L943.1,1060.0 L945.5,1051.9 L948.0,1043.6 L950.5,1035.4 L953.1,1027.1 L955.7,1018.6 L958.4,1009.7 L961.2,1000.0 L965.5,984.9 L970.3,968.0 L975.2,950.3 L980.1,932.4 L984.7,915.4 L988.8,900.0 L991.5,889.6 L994.0,879.8 L996.3,870.4 L998.6,861.3 L1000.8,852.5 L1003.0,843.7 L1004.9,836.3 L1006.7,829.4 L1008.5,822.6 L1010.3,815.7 L1012.3,808.2 L1014.5,800.0 L1018.4,785.7 L1022.7,769.7 L1027.4,752.5 L1032.3,734.8 L1037.2,717.1 L1042.0,700.0 L1046.8,683.0 L1051.7,665.6 L1056.7,648.2 L1061.6,631.2 L1066.4,615.0 L1071.1,600.0 L1074.5,589.7 L1077.9,580.3 L1081.2,571.3 L1084.5,562.4 L1087.6,553.3 L1090.7,543.7 L1093.8,532.0 L1096.6,519.4 L1099.2,506.7 L1102.0,494.1 L1105.2,482.4 L1109.0,471.9 L1112.4,465.0 L1116.1,458.7 L1120.0,452.9 L1124.1,447.3 L1128.1,441.7 L1132.0,435.9 L1135.7,429.8 L1139.4,423.5 L1143.0,417.3 L1146.7,411.2 L1150.6,405.4 L1154.7,400.0 L1158.6,395.5 L1162.7,391.0 L1166.9,386.8 L1171.2,383.0 L1175.4,379.7 L1179.6,377.0 L1182.6,375.5 L1185.6,374.4 L1188.7,373.6 L1191.6,373.0 L1194.6,372.4 L1197.6,371.6 L1200.5,370.7 L1203.3,369.7 L1206.1,368.6 L1208.9,367.8 L1211.8,367.1 L1214.7,366.8 L1217.7,366.9 L1220.8,367.4 L1223.8,368.1 L1227.0,368.9 L1230.2,369.9 L1233.5,370.7 L1237.8,371.7 L1242.3,372.9 L1247.0,374.1 L1251.7,375.3 L1256.3,376.5 L1260.5,377.5 L1263.7,378.1 L1266.8,378.6 L1269.7,379.0 L1272.7,379.5 L1275.5,380.1 L1278.4,381.1 L1281.5,382.5 L1284.7,384.3 L1287.8,386.3 L1290.9,388.4 L1293.7,390.6 L1296.4,392.8 L1298.5,394.9 L1300.4,397.0 L1302.2,399.3 L1304.0,401.5 L1305.9,403.7 L1308.0,405.7 L1310.7,407.6 L1313.7,409.1 L1316.8,410.6 L1319.9,412.2 L1323.0,414.1 L1325.9,416.5 L1329.4,420.6 L1332.5,425.4 L1335.5,430.8 L1338.6,436.7 L1342.1,443.2 L1346.1,450.0 L1354.9,463.6 L1365.4,479.3 L1377.0,496.5 L1389.0,514.5 L1400.5,532.5 L1411.0,550.0 L1420.1,566.5 L1428.6,583.1 L1436.8,599.8 L1444.8,616.6 L1452.8,633.3 L1461.1,650.0 L1469.6,666.7 L1478.1,683.4 L1486.7,700.0 L1495.3,716.7 L1503.9,733.3 L1512.5,750.0 L1521.1,766.7 L1529.7,783.4 L1538.4,800.1 L1547.1,816.7 L1555.9,833.4 L1564.8,850.0 L1574.2,867.2 L1584.1,884.9 L1594.0,902.6 L1603.7,919.7 L1612.8,935.7 L1621.0,950.0 L1625.8,958.3 L1630.1,965.7 L1634.2,972.6 L1638.2,979.4 L1642.2,986.3 L1646.4,993.7 L1651.1,1002.5 L1655.5,1011.6 L1660.0,1020.8 L1664.8,1030.3 L1670.1,1040.0 L1676.1,1050.0 L1685.5,1063.8 L1696.3,1078.5 L1708.0,1093.6 L1720.0,1108.6 L1732.0,1123.2 L1743.3,1137.0 L1752.9,1148.6 L1762.5,1160.3 L1772.0,1171.7 L1781.3,1182.3 L1790.2,1191.9 L1798.4,1200.0 L1803.1,1204.2 L1807.3,1207.7 L1811.4,1210.8 L1815.6,1213.8 L1820.0,1216.7 L1825.0,1220.0 L1832.9,1224.9 L1841.9,1230.1 L1851.4,1235.4 L1860.9,1240.6 L1870.1,1245.5 L1878.5,1250.0 L1884.3,1253.0 L1889.9,1255.7 L1895.2,1258.3 L1900.4,1260.8 L1905.3,1263.4 L1910.0,1266.0 L1913.7,1268.3 L1917.2,1270.6 L1920.5,1273.0 L1923.8,1275.3 L1927.0,1277.7 L1930.3,1280.0 L1933.6,1282.3 L1937.0,1284.5 L1940.4,1286.7 L1943.7,1289.0 L1946.9,1291.2 L1950.0,1293.4 L1952.6,1295.3 L1954.9,1297.2 L1957.2,1299.0 L1959.6,1300.9 L1962.1,1302.9 L1965.0,1305.0 L1969.9,1308.5 L1975.3,1312.4 L1981.1,1316.6 L1987.2,1320.8 L1993.5,1325.0 L2000.0,1329.0 L2007.7,1333.6 L2015.9,1338.1 L2024.3,1342.7 L2032.9,1347.1 L2041.5,1351.5 L2050.0,1355.7 L2058.3,1359.7 L2066.6,1363.5 L2074.9,1367.3 L2083.3,1370.9 L2091.6,1374.5 L2100.0,1378.0 L2108.3,1381.4 L2116.6,1384.7 L2124.9,1387.9 L2133.3,1391.1 L2141.6,1394.1 L2150.0,1397.1 L2158.3,1399.9 L2166.6,1402.7 L2174.9,1405.3 L2183.3,1407.9 L2191.6,1410.4 L2200.0,1412.8 L2208.3,1415.1 L2216.6,1417.2 L2225.0,1419.2 L2233.3,1421.2 L2241.7,1423.3 L2250.0,1425.4 L2258.2,1427.7 L2266.3,1430.2 L2274.4,1432.6 L2282.6,1435.0 L2291.1,1437.2 L2300.0,1439.0 L2311.2,1440.6 L2323.0,1441.8 L2335.1,1442.7 L2347.5,1443.4 L2359.8,1444.1 L2372.0,1445.0" stroke="#008000"/><path d="M420.5,1473.0 L426.0,1473.0 L431.4,1473.0 L436.8,1472.9 L442.2,1472.9 L448.0,1472.9 L454.0,1473.0 L462.3,1473.2 L471.0,1473.4 L480.2,1473.8 L489.5,1474.1 L498.8,1474.3 L508.0,1474.5 L517.3,1474.5 L526.7,1474.5 L536.2,1474.4 L545.5,1474.3 L554.5,1474.2 L563.0,1474.0 L569.4,1473.9 L575.6,1473.8 L581.5,1473.7 L587.3,1473.5 L593.1,1473.3 L599.0,1473.0 L605.0,1472.7 L611.0,1472.3 L617.0,1471.8 L623.0,1471.3 L629.0,1470.7 L635.0,1470.0 L641.1,1469.2 L647.2,1468.2 L653.3,1467.2 L659.3,1466.2 L665.2,1465.1 L671.0,1464.0 L676.0,1463.0 L680.9,1462.0 L685.7,1461.0 L690.5,1460.0 L695.2,1459.0 L700.0,1458.0 L704.8,1457.2 L709.6,1456.6 L714.5,1455.9 L719.2,1455.2 L723.8,1454.2 L728.2,1452.8 L732.0,1451.1 L735.6,1449.3 L739.1,1447.2 L742.5,1444.8 L746.1,1442.1 L750.0,1439.2 L756.4,1434.1 L763.4,1428.1 L770.7,1421.5 L778.0,1414.5 L785.3,1407.3 L792.2,1400.0 L799.1,1392.4 L805.8,1384.8 L812.4,1376.9 L818.9,1368.6 L825.3,1359.7 L831.9,1350.0 L841.0,1335.2 L850.6,1318.3 L860.1,1300.4 L869.3,1282.4 L877.6,1265.2 L884.6,1250.0 L888.6,1240.8 L891.9,1232.2 L894.9,1224.1 L897.7,1216.1 L900.4,1208.2 L903.3,1200.0 L906.3,1191.7 L909.3,1183.4 L912.3,1175.0 L915.3,1166.7 L918.2,1158.3 L921.1,1150.0 L924.0,1141.7 L926.8,1133.3 L929.7,1125.0 L932.4,1116.6 L935.1,1108.3 L937.6,1100.0 L939.8,1092.0 L941.9,1084.0 L943.8,1076.0 L945.7,1068.0 L947.7,1060.0 L950.0,1051.9 L952.6,1043.5 L955.3,1035.3 L958.1,1027.1 L961.0,1018.6 L964.1,1009.7 L967.3,1000.0 L972.2,984.9 L977.7,968.1 L983.5,950.3 L989.1,932.5 L994.4,915.4 L998.8,900.0 L1001.5,889.6 L1003.7,879.8 L1005.7,870.4 L1007.6,861.3 L1009.6,852.4 L1012.0,843.7 L1014.4,836.3 L1016.8,829.3 L1019.4,822.6 L1022.1,815.7 L1024.8,808.3 L1027.6,800.0 L1031.9,785.7 L1036.3,769.7 L1040.9,752.5 L1045.7,734.8 L1050.6,717.1 L1055.6,700.0 L1061.0,683.0 L1066.7,665.5 L1072.6,648.2 L1078.5,631.2 L1084.2,615.0 L1089.4,600.0 L1092.9,589.5 L1096.2,579.5 L1099.3,569.9 L1102.5,560.8 L1105.9,552.0 L1109.6,543.7 L1113.0,537.1 L1116.5,531.0 L1120.2,525.2 L1124.0,519.5 L1127.9,513.7 L1132.0,507.8 L1136.6,500.7 L1141.5,493.1 L1146.6,485.5 L1151.7,478.3 L1156.7,472.1 L1161.7,467.4 L1164.7,465.4 L1167.7,464.0 L1170.7,463.0 L1173.7,462.2 L1176.6,461.3 L1179.6,460.2 L1182.6,458.8 L1185.6,457.2 L1188.6,455.6 L1191.6,454.0 L1194.6,452.5 L1197.6,451.2 L1200.5,450.0 L1203.4,448.8 L1206.3,447.6 L1209.3,446.6 L1212.4,445.8 L1215.6,445.3 L1219.8,445.1 L1224.3,445.4 L1229.0,446.0 L1233.7,446.7 L1238.3,447.5 L1242.5,448.0 L1245.7,448.3 L1248.8,448.5 L1251.7,448.7 L1254.7,449.0 L1257.6,449.3 L1260.5,449.8 L1263.6,450.4 L1266.7,451.1 L1269.8,451.8 L1272.9,452.7 L1275.7,453.8 L1278.4,455.1 L1280.6,456.5 L1282.5,458.1 L1284.3,459.9 L1286.1,461.7 L1288.0,463.7 L1290.0,465.6 L1292.8,468.1 L1295.7,470.9 L1298.7,473.7 L1301.8,476.6 L1304.9,479.2 L1308.0,481.7 L1310.9,483.7 L1313.9,485.4 L1317.0,487.1 L1320.0,488.7 L1323.0,490.5 L1325.9,492.5 L1329.0,494.9 L1331.9,497.4 L1334.8,500.1 L1337.8,503.0 L1340.8,506.2 L1343.9,509.6 L1348.6,515.0 L1353.5,520.9 L1358.5,527.3 L1363.6,534.3 L1368.9,541.8 L1374.3,550.0 L1382.7,563.9 L1391.4,579.9 L1400.4,597.1 L1409.6,615.0 L1419.0,632.9 L1428.5,650.0 L1438.4,666.7 L1448.7,683.4 L1459.1,700.0 L1469.6,716.6 L1479.9,733.3 L1489.9,750.0 L1499.5,766.6 L1508.9,783.2 L1518.2,799.9 L1527.3,816.6 L1536.5,833.3 L1545.6,850.0 L1554.9,867.1 L1564.4,884.8 L1573.8,902.6 L1583.0,919.7 L1591.6,935.7 L1599.5,950.0 L1604.1,958.3 L1608.4,965.7 L1612.4,972.7 L1616.3,979.4 L1620.4,986.3 L1624.8,993.7 L1630.2,1002.6 L1635.6,1011.6 L1641.3,1020.8 L1647.3,1030.2 L1653.6,1039.9 L1660.3,1050.0 L1669.7,1063.7 L1680.0,1078.3 L1690.9,1093.5 L1702.1,1108.6 L1713.2,1123.3 L1724.1,1137.0 L1733.8,1148.7 L1743.8,1160.3 L1753.8,1171.6 L1763.4,1182.2 L1772.4,1191.8 L1780.3,1200.0 L1784.3,1204.1 L1787.8,1207.6 L1791.0,1210.8 L1794.3,1213.8 L1797.8,1216.8 L1801.7,1220.0 L1807.7,1224.6 L1814.7,1229.5 L1822.0,1234.5 L1829.0,1239.1 L1835.2,1243.1 L1840.0,1246.1 L1841.4,1246.9 L1842.4,1247.6 L1843.4,1248.1 L1844.3,1248.6 L1845.4,1249.2 L1846.9,1250.0 L1853.3,1253.7 L1862.4,1258.8 L1872.8,1264.8 L1883.4,1270.8 L1892.8,1276.1 L1899.8,1280.0 L1901.9,1281.1 L1903.5,1282.0 L1905.0,1282.7 L1906.4,1283.4 L1908.0,1284.2 L1910.0,1285.2 L1915.4,1288.0 L1922.1,1291.4 L1929.6,1295.3 L1937.1,1299.2 L1944.2,1302.9 L1950.0,1306.0 L1952.9,1307.6 L1955.3,1309.0 L1957.6,1310.3 L1959.8,1311.6 L1962.2,1313.0 L1965.0,1314.5 L1969.9,1317.0 L1975.4,1319.8 L1981.2,1322.6 L1987.4,1325.6 L1993.7,1328.8 L2000.0,1332.1 L2007.9,1336.3 L2016.1,1340.8 L2024.5,1345.5 L2033.1,1350.3 L2041.6,1355.2 L2050.0,1360.1 L2058.3,1365.2 L2066.6,1370.7 L2074.8,1376.2 L2083.1,1381.5 L2091.5,1386.4 L2100.0,1390.5 L2108.2,1393.5 L2116.5,1395.9 L2124.8,1397.9 L2133.3,1399.7 L2141.7,1401.5 L2150.0,1403.7 L2158.3,1406.2 L2166.7,1408.9 L2175.0,1411.6 L2183.3,1414.4 L2191.6,1417.0 L2200.0,1419.5 L2208.3,1421.8 L2216.6,1424.1 L2224.9,1426.2 L2233.3,1428.3 L2241.6,1430.2 L2250.0,1432.0 L2258.2,1433.6 L2266.3,1435.1 L2274.4,1436.4 L2282.6,1437.7 L2291.1,1438.9 L2300.0,1440.0 L2311.2,1441.2 L2323.0,1442.3 L2335.2,1443.2 L2347.5,1444.1 L2359.8,1445.0 L2372.0,1446.0" stroke="#00ff00"/><path d="M420.5,1473.0 L426.0,1473.0 L431.4,1473.0 L436.8,1473.0 L442.2,1472.9 L448.0,1473.0 L454.0,1473.0 L462.3,1473.1 L471.0,1473.3 L480.2,1473.6 L489.5,1473.8 L498.8,1473.9 L508.0,1474.0 L517.3,1474.0 L526.7,1473.9 L536.2,1473.8 L545.5,1473.6 L554.5,1473.4 L563.0,1473.0 L569.6,1472.6 L576.0,1472.1 L582.3,1471.6 L588.2,1471.1 L593.8,1470.5 L599.0,1470.0 L602.3,1469.7 L605.3,1469.3 L608.0,1469.0 L610.8,1468.7 L613.8,1468.3 L617.0,1468.0 L621.9,1467.5 L627.3,1467.1 L633.0,1466.6 L638.7,1466.1 L644.5,1465.8 L650.0,1465.5 L655.1,1465.5 L660.2,1465.7 L665.2,1466.0 L670.2,1466.2 L675.1,1466.1 L680.0,1465.6 L684.6,1464.7 L689.1,1463.6 L693.6,1462.2 L698.1,1460.5 L702.7,1458.7 L707.5,1456.6 L714.2,1453.5 L721.3,1450.0 L728.6,1446.0 L736.0,1441.8 L743.1,1437.3 L750.0,1432.7 L756.6,1427.9 L762.9,1422.8 L769.1,1417.5 L775.2,1412.0 L781.3,1406.1 L787.4,1400.0 L794.5,1392.5 L801.6,1384.4 L808.7,1376.0 L815.7,1367.3 L822.4,1358.6 L828.9,1350.0 L834.8,1341.8 L840.6,1333.5 L846.1,1325.2 L851.4,1316.8 L856.6,1308.4 L861.7,1300.0 L866.5,1291.8 L871.2,1283.5 L875.8,1275.2 L880.1,1266.8 L884.3,1258.4 L888.2,1250.0 L891.7,1241.8 L894.8,1233.4 L897.8,1225.1 L900.6,1216.7 L903.5,1208.3 L906.5,1200.0 L909.7,1191.7 L912.9,1183.3 L916.1,1175.0 L919.3,1166.7 L922.4,1158.4 L925.4,1150.0 L928.2,1141.7 L930.8,1133.3 L933.4,1125.0 L935.9,1116.6 L938.4,1108.3 L941.0,1100.0 L943.5,1091.9 L946.0,1084.0 L948.5,1076.0 L951.0,1068.0 L953.6,1060.0 L956.3,1051.9 L959.1,1043.5 L961.9,1035.3 L964.8,1027.1 L967.8,1018.6 L971.0,1009.6 L974.5,1000.0 L980.0,984.9 L986.2,968.0 L992.9,950.2 L999.5,932.4 L1005.8,915.4 L1011.5,900.0 L1015.3,889.6 L1018.9,879.8 L1022.3,870.4 L1025.6,861.4 L1028.7,852.5 L1031.8,843.7 L1034.3,836.3 L1036.4,829.4 L1038.5,822.6 L1040.7,815.7 L1043.1,808.2 L1045.9,800.0 L1051.2,785.3 L1057.5,768.3 L1064.3,750.3 L1071.2,732.2 L1077.7,715.1 L1083.3,700.0 L1086.5,690.8 L1089.2,682.2 L1091.6,674.0 L1094.2,666.3 L1097.1,658.8 L1100.6,651.5 L1104.5,644.9 L1108.7,638.5 L1113.3,632.3 L1118.0,626.4 L1122.8,620.8 L1127.5,615.6 L1131.7,611.2 L1136.2,607.0 L1140.7,603.0 L1145.1,599.3 L1149.1,596.1 L1152.7,593.5 L1154.4,592.5 L1156.0,591.7 L1157.5,591.1 L1158.9,590.5 L1160.3,589.7 L1161.7,588.6 L1163.5,586.4 L1165.2,583.6 L1166.8,580.4 L1168.5,577.2 L1170.3,574.1 L1172.4,571.5 L1174.8,569.3 L1177.3,567.4 L1180.1,565.6 L1182.9,564.0 L1185.7,562.4 L1188.6,560.8 L1191.5,559.2 L1194.4,557.6 L1197.3,556.0 L1200.4,554.6 L1203.4,553.3 L1206.6,552.1 L1210.0,551.0 L1213.5,550.0 L1217.1,549.1 L1220.8,548.4 L1224.4,547.9 L1228.1,547.7 L1232.0,547.8 L1236.0,548.3 L1240.0,548.9 L1243.9,549.8 L1247.8,550.8 L1251.5,551.8 L1254.7,552.7 L1257.7,553.7 L1260.7,554.8 L1263.7,556.0 L1266.5,557.4 L1269.4,559.0 L1272.5,561.0 L1275.6,563.3 L1278.6,565.7 L1281.5,568.4 L1284.5,571.2 L1287.4,574.2 L1290.9,578.3 L1294.3,583.0 L1297.7,587.9 L1301.0,592.8 L1304.5,597.3 L1308.0,601.2 L1310.9,603.7 L1313.7,605.7 L1316.6,607.5 L1319.5,609.3 L1322.6,611.3 L1325.9,613.8 L1331.4,618.5 L1337.4,624.0 L1343.7,630.0 L1350.1,636.5 L1356.5,643.2 L1362.7,650.0 L1369.3,658.0 L1375.6,666.5 L1381.9,675.3 L1388.3,684.2 L1394.9,693.0 L1401.8,701.5 L1409.4,709.6 L1417.5,717.1 L1425.8,724.5 L1434.1,732.1 L1442.4,740.5 L1450.3,750.0 L1460.1,764.2 L1469.6,780.2 L1478.9,797.4 L1488.1,815.1 L1497.3,832.9 L1506.7,850.0 L1516.5,867.2 L1526.6,884.9 L1536.8,902.6 L1546.7,919.7 L1556.0,935.7 L1564.5,950.0 L1569.5,958.3 L1574.1,965.7 L1578.4,972.7 L1582.7,979.4 L1587.0,986.3 L1591.6,993.7 L1597.0,1002.5 L1602.4,1011.6 L1607.9,1020.8 L1613.7,1030.2 L1619.8,1039.9 L1626.4,1050.0 L1635.8,1063.7 L1646.0,1078.4 L1656.9,1093.5 L1668.1,1108.6 L1679.3,1123.3 L1690.2,1137.0 L1700.0,1148.7 L1710.2,1160.3 L1720.4,1171.6 L1730.3,1182.2 L1739.4,1191.7 L1747.3,1200.0 L1751.2,1204.0 L1754.5,1207.5 L1757.7,1210.6 L1760.8,1213.6 L1764.1,1216.7 L1767.9,1220.0 L1773.7,1224.8 L1780.2,1229.9 L1787.1,1235.0 L1794.2,1240.2 L1801.1,1245.2 L1807.7,1250.0 L1813.4,1254.2 L1819.3,1258.4 L1825.0,1262.5 L1830.5,1266.3 L1835.6,1269.8 L1840.0,1272.8 L1842.2,1274.2 L1844.1,1275.5 L1845.9,1276.6 L1847.7,1277.6 L1849.6,1278.8 L1851.7,1280.0 L1855.1,1281.9 L1858.7,1284.0 L1862.5,1286.2 L1866.5,1288.4 L1870.7,1290.7 L1875.0,1292.9 L1880.4,1295.6 L1886.0,1298.4 L1891.9,1301.3 L1897.8,1304.1 L1903.9,1307.0 L1910.0,1309.7 L1916.7,1312.5 L1923.9,1315.3 L1931.1,1318.0 L1938.1,1320.7 L1944.5,1323.4 L1950.0,1326.0 L1952.9,1327.7 L1955.3,1329.4 L1957.6,1331.1 L1959.8,1332.7 L1962.2,1334.4 L1965.0,1336.0 L1969.9,1338.2 L1975.3,1340.3 L1981.2,1342.3 L1987.4,1344.4 L1993.7,1346.7 L2000.0,1349.3 L2007.9,1353.1 L2016.1,1357.3 L2024.5,1361.8 L2033.0,1366.5 L2041.6,1371.2 L2050.0,1375.6 L2058.3,1380.0 L2066.6,1384.4 L2074.8,1388.9 L2083.2,1393.1 L2091.5,1397.0 L2100.0,1400.4 L2108.2,1403.0 L2116.5,1405.2 L2124.9,1407.0 L2133.3,1408.7 L2141.7,1410.4 L2150.0,1412.4 L2158.3,1414.7 L2166.7,1417.1 L2175.0,1419.6 L2183.3,1422.1 L2191.7,1424.5 L2200.0,1426.8 L2208.3,1429.0 L2216.6,1431.1 L2225.0,1433.2 L2233.3,1435.2 L2241.6,1437.2 L2250.0,1439.1 L2258.4,1440.9 L2266.8,1442.7 L2275.3,1444.4 L2283.7,1446.0 L2292.0,1447.6 L2300.0,1449.0 L2307.0,1450.1 L2313.8,1451.2 L2320.6,1452.1 L2327.2,1453.0 L2333.6,1454.0 L2340.0,1455.0 L2345.5,1456.0 L2350.9,1457.0 L2356.2,1458.0 L2361.5,1459.0 L2366.7,1460.0 L2372.0,1461.0" stroke="#000080"/><path d="M420.5,1471.3 L426.0,1471.2 L431.4,1471.1 L436.9,1471.0 L442.4,1470.9 L448.1,1470.8 L454.2,1470.8 L462.6,1470.9 L471.6,1471.2 L481.0,1471.5 L490.5,1471.8 L499.7,1472.1 L508.5,1472.2 L515.7,1472.2 L522.6,1472.1 L529.4,1472.0 L536.1,1471.8 L543.0,1471.6 L550.0,1471.3 L557.9,1470.9 L566.0,1470.5 L574.2,1469.9 L582.4,1469.3 L590.7,1468.6 L598.9,1467.7 L607.5,1466.6 L616.4,1465.4 L625.3,1464.1 L634.0,1462.7 L642.3,1461.2 L650.0,1459.7 L655.5,1458.5 L660.7,1457.3 L665.6,1456.0 L670.4,1454.7 L675.2,1453.3 L680.0,1451.8 L684.6,1450.3 L689.1,1448.8 L693.6,1447.3 L698.0,1445.6 L702.7,1443.7 L707.5,1441.5 L714.3,1438.2 L721.6,1434.3 L729.1,1430.0 L736.5,1425.7 L743.6,1421.4 L750.0,1417.3 L754.5,1414.3 L758.7,1411.4 L762.8,1408.4 L766.6,1405.6 L770.3,1402.8 L773.9,1400.0 L776.8,1397.9 L779.4,1395.9 L782.0,1393.9 L784.6,1391.9 L787.3,1389.6 L790.2,1387.0 L795.2,1382.1 L800.7,1376.5 L806.4,1370.3 L812.3,1363.7 L818.1,1356.8 L823.7,1350.0 L829.8,1342.2 L835.9,1334.1 L842.0,1325.7 L848.0,1317.1 L853.8,1308.5 L859.4,1300.0 L864.6,1291.8 L869.7,1283.5 L874.6,1275.1 L879.4,1266.8 L884.1,1258.4 L888.7,1250.0 L893.1,1241.7 L897.4,1233.4 L901.6,1225.1 L905.7,1216.7 L909.8,1208.4 L913.7,1200.0 L917.5,1191.7 L921.1,1183.4 L924.7,1175.1 L928.2,1166.7 L931.7,1158.4 L935.2,1150.0 L938.6,1141.7 L942.0,1133.3 L945.4,1124.9 L948.7,1116.6 L952.1,1108.3 L955.6,1100.0 L959.1,1091.9 L962.6,1083.9 L966.1,1076.0 L969.7,1068.0 L973.3,1060.0 L976.9,1051.9 L980.6,1043.6 L984.2,1035.4 L987.8,1027.1 L991.5,1018.6 L995.4,1009.7 L999.5,1000.0 L1005.9,984.9 L1012.9,968.0 L1020.2,950.3 L1027.5,932.4 L1034.6,915.4 L1041.0,900.0 L1045.4,889.6 L1049.6,879.8 L1053.7,870.4 L1057.6,861.4 L1061.3,852.5 L1065.0,843.7 L1068.0,836.1 L1070.8,828.8 L1073.5,821.6 L1076.2,814.4 L1079.2,807.3 L1082.4,800.0 L1086.2,792.0 L1090.2,784.0 L1094.5,776.0 L1098.9,767.9 L1103.7,759.7 L1108.7,751.5 L1115.1,741.9 L1122.1,732.0 L1129.5,722.0 L1136.9,712.1 L1143.9,702.7 L1150.0,694.0 L1153.9,687.8 L1157.3,681.7 L1160.5,675.8 L1163.7,670.3 L1167.0,665.5 L1170.6,661.4 L1173.4,659.0 L1176.4,657.0 L1179.4,655.4 L1182.4,653.9 L1185.5,652.7 L1188.6,651.5 L1191.5,650.5 L1194.5,649.8 L1197.4,649.1 L1200.4,648.6 L1203.5,648.0 L1206.6,647.4 L1210.2,646.5 L1213.9,645.3 L1217.8,644.2 L1221.5,643.2 L1225.0,642.7 L1228.1,642.9 L1230.1,643.7 L1231.9,644.9 L1233.5,646.4 L1235.1,648.0 L1236.9,649.2 L1238.9,650.0 L1242.0,650.0 L1245.6,649.3 L1249.3,648.1 L1253.2,646.9 L1256.9,645.9 L1260.5,645.6 L1263.6,645.9 L1266.6,646.6 L1269.6,647.6 L1272.5,648.7 L1275.4,649.8 L1278.4,650.9 L1281.4,651.9 L1284.4,652.9 L1287.4,653.9 L1290.4,655.0 L1293.4,656.3 L1296.4,657.8 L1300.0,659.9 L1303.7,662.2 L1307.4,664.8 L1311.1,667.5 L1314.6,670.4 L1318.0,673.4 L1321.2,676.9 L1324.3,680.8 L1327.2,684.9 L1330.1,688.9 L1333.0,692.4 L1335.9,695.1 L1337.8,696.3 L1339.7,697.0 L1341.6,697.6 L1343.5,698.1 L1345.6,698.9 L1347.9,700.3 L1354.3,705.3 L1361.8,712.1 L1370.2,720.4 L1378.9,729.8 L1387.7,739.8 L1396.1,750.0 L1406.8,764.6 L1417.5,781.1 L1428.3,798.7 L1439.0,816.6 L1449.8,834.0 L1460.4,850.0 L1469.8,862.8 L1479.3,874.9 L1488.7,886.6 L1498.0,898.2 L1506.9,909.9 L1515.3,921.9 L1522.6,933.8 L1529.4,946.0 L1535.9,958.3 L1542.2,970.5 L1548.8,982.4 L1555.7,993.7 L1562.4,1003.5 L1569.1,1012.8 L1575.9,1021.8 L1583.0,1030.8 L1590.4,1040.1 L1598.2,1050.0 L1608.8,1063.7 L1620.2,1078.3 L1632.1,1093.5 L1644.3,1108.7 L1656.6,1123.3 L1668.7,1137.0 L1680.0,1148.8 L1692.0,1160.4 L1704.0,1171.6 L1715.6,1182.1 L1726.0,1191.7 L1734.7,1200.0 L1738.6,1203.9 L1741.9,1207.3 L1744.9,1210.4 L1747.8,1213.5 L1750.8,1216.6 L1754.2,1220.0 L1758.9,1224.7 L1763.8,1229.7 L1769.0,1234.9 L1774.4,1240.1 L1780.1,1245.2 L1786.2,1250.0 L1794.5,1255.7 L1804.3,1261.7 L1814.6,1267.6 L1824.1,1272.8 L1831.9,1277.1 L1837.0,1280.0 L1837.7,1280.4 L1838.1,1280.7 L1838.5,1281.0 L1838.9,1281.2 L1839.3,1281.5 L1840.0,1281.9 L1843.6,1283.9 L1848.8,1286.7 L1855.1,1290.0 L1861.9,1293.4 L1868.7,1296.8 L1875.0,1299.8 L1880.7,1302.3 L1886.3,1304.6 L1892.0,1306.7 L1897.8,1308.9 L1903.7,1311.3 L1910.0,1314.0 L1918.6,1318.0 L1927.9,1322.5 L1937.5,1327.4 L1947.1,1332.2 L1956.4,1336.8 L1965.0,1341.0 L1971.2,1344.0 L1977.0,1346.8 L1982.5,1349.4 L1988.1,1352.0 L1993.8,1354.5 L2000.0,1357.0 L2007.8,1359.8 L2016.0,1362.4 L2024.5,1364.9 L2033.1,1367.5 L2041.6,1370.3 L2050.0,1373.4 L2058.4,1377.1 L2066.7,1381.2 L2075.0,1385.6 L2083.2,1389.8 L2091.6,1393.7 L2100.0,1397.0 L2108.2,1399.4 L2116.5,1401.3 L2124.9,1402.8 L2133.3,1404.2 L2141.7,1405.6 L2150.0,1407.4 L2158.4,1409.5 L2166.7,1411.7 L2175.0,1414.0 L2183.3,1416.4 L2191.7,1418.6 L2200.0,1420.8 L2208.3,1422.9 L2216.6,1424.9 L2225.0,1426.8 L2233.3,1428.8 L2241.6,1430.6 L2250.0,1432.3 L2258.4,1433.9 L2266.8,1435.5 L2275.3,1436.9 L2283.7,1438.3 L2292.0,1439.6 L2300.0,1440.8 L2307.0,1441.8 L2313.8,1442.7 L2320.6,1443.6 L2327.2,1444.4 L2333.6,1445.2 L2340.0,1446.0 L2345.5,1446.8 L2350.9,1447.5 L2356.2,1448.3 L2361.5,1449.0 L2366.7,1449.8 L2372.0,1450.5" stroke="#940084"/></g>
<g font-family="Liberation Serif, serif" font-weight="bold" font-size="100"><text text-anchor="end" transform="translate(320,1507.5) scale(0.92,0.955)">0</text><text text-anchor="end" transform="translate(320,1273.0) scale(0.92,0.955)">150</text><text text-anchor="end" transform="translate(320,1038.5) scale(0.92,0.955)">300</text><text text-anchor="end" transform="translate(320,804.0) scale(0.92,0.955)">450</text><text text-anchor="end" transform="translate(320,569.5) scale(0.92,0.955)">600</text><text text-anchor="end" transform="translate(320,335.0) scale(0.92,0.955)">750</text><text text-anchor="end" transform="translate(320,100.5) scale(0.92,0.955)">900</text><text text-anchor="middle" transform="translate(548.5,1638.3) scale(0.92,0.955)">500</text><text text-anchor="middle" transform="translate(879.4,1638.3) scale(0.92,0.955)">550</text><text text-anchor="middle" transform="translate(1210.2,1638.3) scale(0.92,0.955)">600</text><text text-anchor="middle" transform="translate(1541.0,1638.3) scale(0.92,0.955)">650</text><text text-anchor="middle" transform="translate(1871.9,1638.3) scale(0.92,0.955)">700</text><text text-anchor="middle" transform="translate(2202.7,1638.3) scale(0.92,0.955)">750</text></g>
<text font-family="Liberation Serif, serif" font-weight="bold" font-size="100" transform="translate(987.8,1766.6) scale(1.1748,1.1622)">Wavelength (nm)</text>
<text font-family="Liberation Serif, serif" font-weight="bold" font-size="100" transform="translate(112.9,1329.2) rotate(-90) scale(1.1877,1.1889)">Emission intensity (a.u.)</text>
<g font-family="Liberation Serif, serif" font-size="100"><path d="M1889 140.0H2072" stroke="#000000" stroke-width="12" stroke-linecap="round"/><text transform="translate(2093.4,168.5) scale(0.82,0.86)">2</text><text transform="translate(2135.1,168.5) scale(0.82,0.86)">5</text><text transform="translate(2175.5,119.9) scale(0.557,0.542)">o</text><text transform="translate(2201.7,167.6) scale(0.982,0.969)">C</text><path d="M1889 271.0H2072" stroke="#ff0000" stroke-width="12" stroke-linecap="round"/><text transform="translate(2095.7,299.5) scale(0.82,0.86)">5</text><text transform="translate(2135.4,299.5) scale(0.82,0.86)">0</text><text transform="translate(2175.3,250.9) scale(0.557,0.542)">o</text><text transform="translate(2201.2,298.6) scale(0.982,0.969)">C</text><path d="M1889 403.0H2072" stroke="#0000ff" stroke-width="12" stroke-linecap="round"/><text transform="translate(2093.7,431.5) scale(0.82,0.86)">7</text><text transform="translate(2135.1,431.5) scale(0.82,0.86)">5</text><text transform="translate(2175.3,382.9) scale(0.557,0.542)">o</text><text transform="translate(2201.2,430.6) scale(0.982,0.969)">C</text><path d="M1889 534.0H2072" stroke="#ff00ff" stroke-width="12" stroke-linecap="round"/><text transform="translate(2098.6,562.5) scale(0.82,0.86)">1</text><text transform="translate(2136.0,562.5) scale(0.82,0.86)">0</text><text transform="translate(2175.6,562.5) scale(0.82,0.86)">0</text><text transform="translate(2216.8,513.9) scale(0.557,0.542)">o</text><text transform="translate(2241.8,561.6) scale(0.982,0.969)">C</text><path d="M1889 666.0H2072" stroke="#008000" stroke-width="12" stroke-linecap="round"/><text transform="translate(2097.5,694.5) scale(0.82,0.86)">1</text><text transform="translate(2138.2,694.5) scale(0.82,0.86)">2</text><text transform="translate(2181.0,694.5) scale(0.82,0.86)">5</text><text transform="translate(2221.7,645.9) scale(0.557,0.542)">o</text><text transform="translate(2247.6,693.6) scale(0.982,0.969)">C</text><path d="M1889 797.0H2072" stroke="#00ff00" stroke-width="12" stroke-linecap="round"/><text transform="translate(2098.1,825.5) scale(0.82,0.86)">1</text><text transform="translate(2135.7,825.5) scale(0.82,0.86)">5</text><text transform="translate(2176.4,825.5) scale(0.82,0.86)">0</text><text transform="translate(2216.4,776.9) scale(0.557,0.542)">o</text><text transform="translate(2241.5,824.6) scale(0.982,0.969)">C</text><path d="M1889 929.0H2072" stroke="#000080" stroke-width="12" stroke-linecap="round"/><text transform="translate(2098.1,957.5) scale(0.82,0.86)">1</text><text transform="translate(2135.1,957.5) scale(0.82,0.86)">7</text><text transform="translate(2175.7,957.5) scale(0.82,0.86)">5</text><text transform="translate(2216.9,908.9) scale(0.557,0.542)">o</text><text transform="translate(2241.8,956.6) scale(0.982,0.969)">C</text><path d="M1889 1060.0H2072" stroke="#940084" stroke-width="12" stroke-linecap="round"/><text transform="translate(2093.2,1088.5) scale(0.82,0.86)">2</text><text transform="translate(2136.0,1088.5) scale(0.82,0.86)">0</text><text transform="translate(2175.6,1088.5) scale(0.82,0.86)">0</text><text transform="translate(2216.8,1039.9) scale(0.557,0.542)">o</text><text transform="translate(2241.8,1087.6) scale(0.982,0.969)">C</text></g>
<path d="M1803,977 V153 Q1803,149 1807,149 H1811 Q1815,149 1815,153 V977 Z" fill="#000"/>
<path d="M1789,979 L1792,976 L1825,976 L1828,979 L1828,987 L1814.5,1039.5 L1811.5,1042.8 L1805.5,1042.8 L1802.5,1039.5 L1789,987 Z" fill="#000"/>
</svg>
</body></html>
